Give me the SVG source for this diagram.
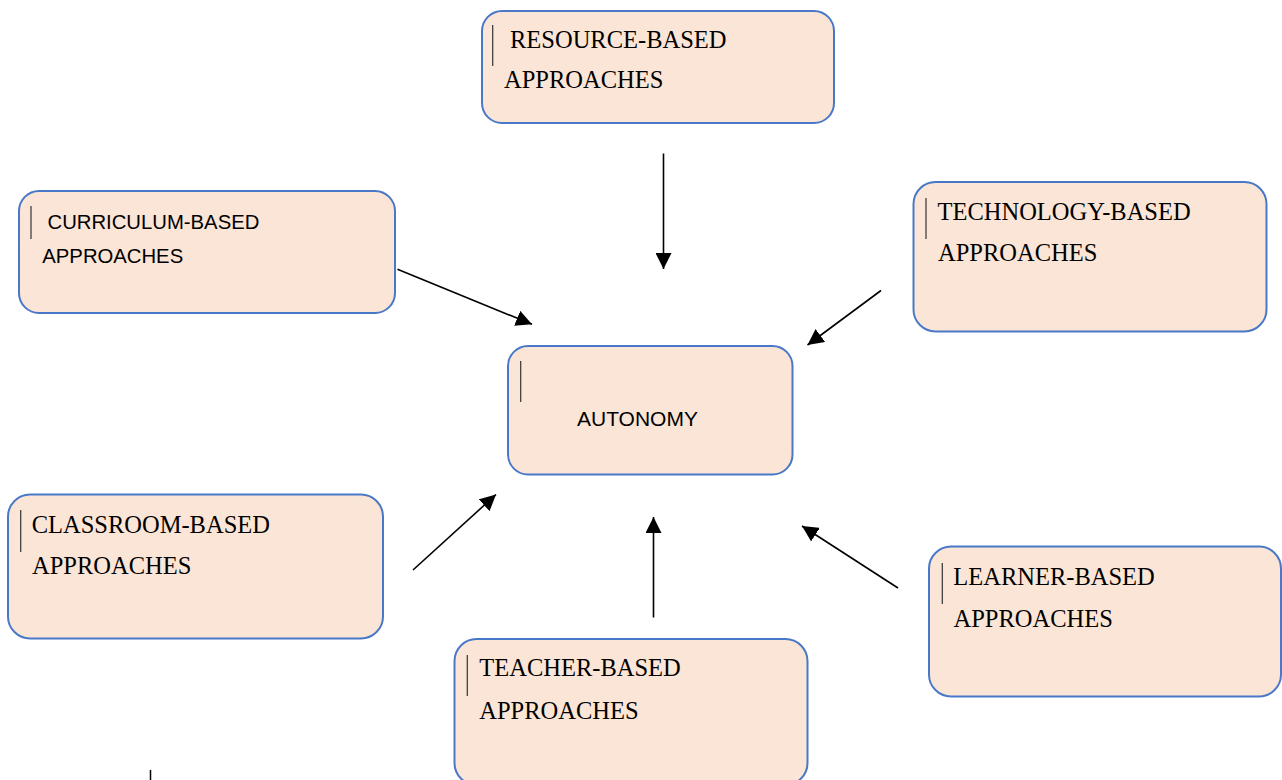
<svg xmlns="http://www.w3.org/2000/svg" width="1282" height="780" viewBox="0 0 1282 780">
<style>
.box{fill:#FBE5D6;stroke:#4A78C8;stroke-width:2}
.bar{stroke:#333;stroke-width:1.2}
.serif{font-family:"Liberation Serif","Times New Roman",serif;font-size:24.5px;fill:#000}
.sans{font-family:"Liberation Sans",Arial,sans-serif;font-size:20.3px;fill:#000}
.conn{stroke:#000;stroke-width:1.6;fill:none;marker-end:url(#ah)}
</style>
<defs>
<marker id="ah" markerUnits="userSpaceOnUse" markerWidth="16" markerHeight="16" viewBox="0 0 14 14" refX="14" refY="7" orient="auto">
<path d="M0,0 L14,7 L0,14 Z" fill="#000"/>
</marker>
</defs>
<rect width="1282" height="780" fill="#fff"/>
<g id="resource">
<rect class="box" x="482" y="11" width="352" height="112" rx="20"/>
<line class="bar" x1="492.7" y1="25" x2="492.7" y2="66"/>
<text class="serif" x="510" y="48">RESOURCE-BASED</text>
<text class="serif" x="504" y="88">APPROACHES</text>
</g>
<g id="curriculum">
<rect class="box" x="19" y="191" width="376" height="122" rx="20"/>
<line class="bar" x1="31" y1="206" x2="31" y2="239"/>
<text class="sans" x="47.5" y="229">CURRICULUM-BASED</text>
<text class="sans" x="42.3" y="263">APPROACHES</text>
</g>
<g id="technology">
<rect class="box" x="913.5" y="182" width="353" height="149.5" rx="22"/>
<line class="bar" x1="926" y1="198" x2="926" y2="239"/>
<text class="serif" x="937.5" y="220">TECHNOLOGY-BASED</text>
<text class="serif" x="938" y="261">APPROACHES</text>
</g>
<g id="autonomy">
<rect class="box" x="508" y="346" width="284.5" height="128.5" rx="20"/>
<line class="bar" x1="520.7" y1="361" x2="520.7" y2="402"/>
<text class="sans" x="577" y="426" style="font-size:21px">AUTONOMY</text>
</g>
<g id="classroom">
<rect class="box" x="8" y="494.5" width="375" height="144" rx="22"/>
<line class="bar" x1="20.7" y1="510" x2="20.7" y2="552"/>
<text class="serif" x="31.7" y="533">CLASSROOM-BASED</text>
<text class="serif" x="32" y="573.5">APPROACHES</text>
</g>
<g id="teacher">
<rect class="box" x="454.5" y="639" width="353" height="146" rx="22"/>
<line class="bar" x1="467.3" y1="655" x2="467.3" y2="696"/>
<text class="serif" x="479.3" y="676">TEACHER-BASED</text>
<text class="serif" x="479.3" y="718.5">APPROACHES</text>
</g>
<g id="learner">
<rect class="box" x="929" y="546.5" width="352" height="150" rx="22"/>
<line class="bar" x1="942.3" y1="563" x2="942.3" y2="604"/>
<text class="serif" x="953.3" y="585">LEARNER-BASED</text>
<text class="serif" x="953.5" y="626.7">APPROACHES</text>
</g>
<g id="connectors">
<line class="conn" x1="663.5" y1="153.5" x2="663.5" y2="269"/>
<line class="conn" x1="397.5" y1="269.3" x2="532" y2="324.3"/>
<line class="conn" x1="881" y1="290.5" x2="807.5" y2="345"/>
<line class="conn" x1="413" y1="570" x2="496" y2="494.5"/>
<line class="conn" x1="653.5" y1="617.5" x2="653.5" y2="517"/>
<line class="conn" x1="898" y1="588" x2="802" y2="526"/>
</g>
<line x1="150.5" y1="770" x2="150.5" y2="780" stroke="#000" stroke-width="1.5"/>
</svg>
